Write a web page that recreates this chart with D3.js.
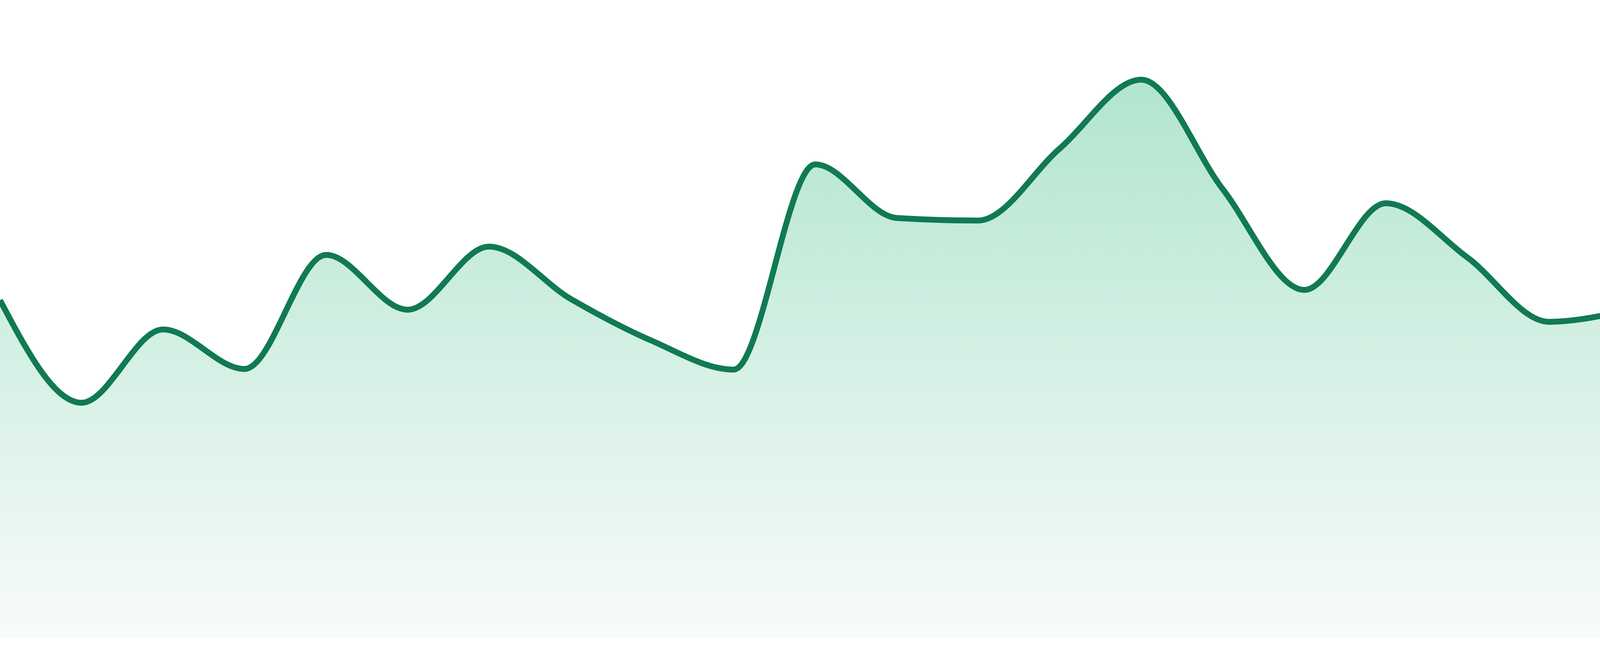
<!DOCTYPE html>
<html>
<head>
<meta charset="utf-8">
<script src="https://cdn.jsdelivr.net/npm/d3@7"></script>
<style>
  html, body { margin: 0; padding: 0; background: #ffffff; }
  svg { display: block; }
</style>
</head>
<body>
<div id="chart"></div>
<script>
// ---- data ----
const categories = d3.range(24).map(i => "P" + (i + 1));
const values = [
  52.9, 36.8, 48.3, 42.1, 60.0, 51.4, 61.3, 53.1,
  46.5, 42.0, 74.2, 65.8, 65.4, 76.7, 87.5, 70.3,
  54.5, 68.1, 59.6, 49.5, 51.3, 54.0, 55.5, 54.8
];
const yDomain = [0, 100];

// ---- layout ----
const W = 4800, H = 1680;
const plotBottom = 1632;

const svg = d3.select("#chart").append("svg")
  .attr("width", W).attr("height", H)
  .attr("viewBox", `0 0 ${W} ${H}`);

const x = d3.scalePoint().domain(categories).range([0, W]);
const y = d3.scaleLinear().domain(yDomain).range([plotBottom, 0]);

const data = categories.map((c, i) => ({ c, v: values[i] }));

const defs = svg.append("defs");
const grad = defs.append("linearGradient")
  .attr("id", "fillGrad")
  .attr("gradientUnits", "userSpaceOnUse")
  .attr("x1", 0).attr("x2", 0)
  .attr("y1", y(d3.max(values))).attr("y2", plotBottom);
grad.append("stop").attr("offset", "0%").attr("stop-color", "#b1e5cf");
grad.append("stop").attr("offset", "100%").attr("stop-color", "#f8fbfa");

const area = d3.area()
  .x(d => x(d.c))
  .y0(plotBottom)
  .y1(d => y(d.v))
  .curve(d3.curveMonotoneX);

const line = d3.line()
  .x(d => x(d.c))
  .y(d => y(d.v))
  .curve(d3.curveMonotoneX);

svg.append("path")
  .datum(data)
  .attr("d", area)
  .attr("fill", "url(#fillGrad)");

svg.append("path")
  .datum(data)
  .attr("d", line)
  .attr("fill", "none")
  .attr("stroke", "#117a52")
  .attr("stroke-width", 15)
  .attr("stroke-linejoin", "round")
  .attr("stroke-linecap", "butt");
</script>
</body>
</html>
